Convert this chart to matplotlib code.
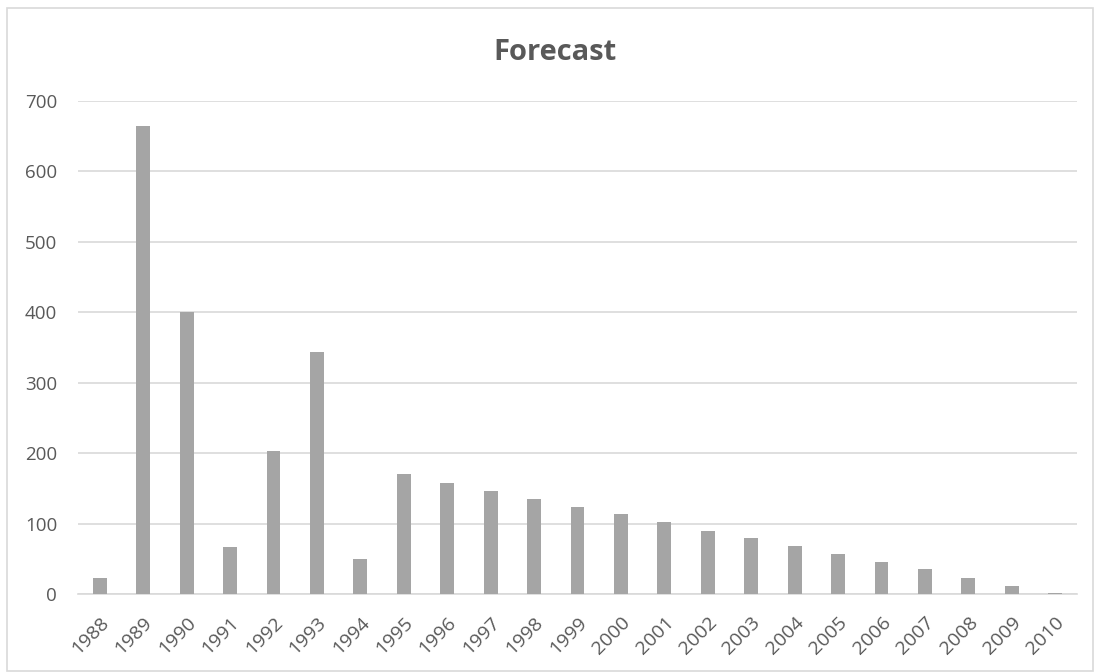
import matplotlib
matplotlib.use("Agg")
import matplotlib.pyplot as plt
from matplotlib.patches import Rectangle

years = [str(y) for y in range(1988, 2011)]
forecast = [23, 664, 400, 67, 203, 343, 50, 170, 157, 146, 135, 124,
            113, 102, 90, 79, 68, 57, 46, 35, 23, 12, 1]

text_color = "#595959"
grid_color = "#D9D9D9"
bar_color = "#A5A5A5"

plt.rcParams["font.family"] = ["Open Sans", "DejaVu Sans"]

W, H = 1094, 672
fig = plt.figure(figsize=(W / 100, H / 100), dpi=100)
ax = fig.add_axes([78 / W, 1 - 594 / H, (1077 - 78) / W, (594 - 101) / H])

x = list(range(len(years)))
ax.bar(x, forecast, width=0.32, color=bar_color, zorder=3)

ax.set_xlim(-0.5, len(years) - 0.5)
ax.set_ylim(0, 700)
ax.set_yticks(range(0, 701, 100))
ax.yaxis.grid(True, color=grid_color, linewidth=1.2, zorder=0)
ax.set_axisbelow(True)

for side in ("top", "right", "left"):
    ax.spines[side].set_visible(False)
ax.spines["bottom"].set_color(grid_color)
ax.spines["bottom"].set_linewidth(1.2)
ax.tick_params(axis="both", length=0, colors=text_color)
ax.tick_params(axis="y", pad=15, labelsize=13.5)

ax.set_xticks(x)
ax.set_xticklabels(years, rotation=45, ha="right", va="top",
                   rotation_mode="anchor", color=text_color, fontsize=14)
ax.tick_params(axis="x", pad=14)

fig.text(555 / W, 1 - 60 / H, "Forecast", ha="center", va="baseline",
         fontsize=21, fontweight="bold", color=text_color)

fig.patches.append(Rectangle((6.5 / W, 1 / H), 1086 / W, 663 / H,
                             transform=fig.transFigure, fill=False,
                             edgecolor=grid_color, linewidth=1.2))

fig.savefig("out.png", dpi=100, facecolor="white")
